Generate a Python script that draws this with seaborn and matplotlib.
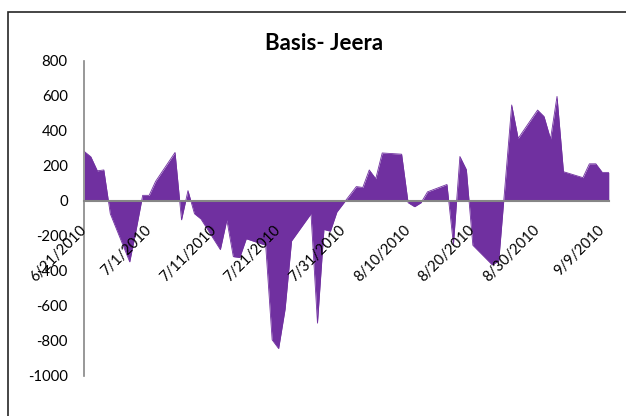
import matplotlib
matplotlib.use("Agg")
import matplotlib.pyplot as plt
import matplotlib.transforms as mtransforms
from matplotlib.patches import Rectangle
import pandas as pd
import seaborn as sns

# Daily basis readings (trading days, 2010)
dates = ["6/21", "6/22", "6/23", "6/24", "6/25", "6/28", "6/29", "6/30", "7/1", "7/2",
         "7/5", "7/6", "7/7", "7/8", "7/9", "7/12", "7/13", "7/14", "7/15", "7/16",
         "7/19", "7/20", "7/21", "7/22", "7/23", "7/26", "7/27", "7/28", "7/29", "7/30",
         "8/2", "8/3", "8/4", "8/5", "8/6", "8/9", "8/10", "8/11", "8/12", "8/13",
         "8/16", "8/17", "8/18", "8/19", "8/20", "8/23", "8/24", "8/25", "8/26", "8/27",
         "8/30", "8/31", "9/1", "9/2", "9/3", "9/6", "9/7", "9/8", "9/9", "9/10"]
basis = [280, 250, 170, 175, -75, -350, -165, 30, 30, 110,
         275, -110, 57, -75, -105, -280, -110, -320, -325, -218,
         -255, -795, -845, -620, -230, -75, -700, -165, -175, -65,
         80, 75, 175, 125, 272, 265, -12, -35, -12, 50,
         92, -250, 252, 177, -255, -367, -345, 100, 546, 355,
         517, 480, 352, 595, 165, 131, 210, 210, 161, 161]

x_tick_labels = ["6/21/2010", "7/1/2010", "7/11/2010", "7/21/2010", "7/31/2010",
                 "8/10/2010", "8/20/2010", "8/30/2010", "9/9/2010"]
y_ticks = [-1000, -800, -600, -400, -200, 0, 200, 400, 600, 800]

df = pd.DataFrame({
    "date": pd.to_datetime([d + "/2010" for d in dates], format="%m/%d/%Y"),
    "basis": basis,
})
tick_dates = pd.to_datetime(x_tick_labels, format="%m/%d/%Y")

sns.set_theme(style="white")
plt.rcParams["font.family"] = ["Lato", "DejaVu Sans"]
plt.rcParams["axes.unicode_minus"] = False

PURPLE = "#7030A0"
GREY = "#868686"

fig = plt.figure(figsize=(6.26, 4.16), dpi=100)
ax = fig.add_axes([84.4 / 626, 1 - 375.7 / 416, (608.8 - 84.4) / 626, (375.7 - 60.5) / 416])

# area under the basis series
ax.fill_between(df["date"], df["basis"], 0, color=PURPLE, linewidth=0, zorder=1)
sns.lineplot(data=df, x="date", y="basis", color=PURPLE, linewidth=0.6, ax=ax, zorder=1)

ax.set_xlim(df["date"].iloc[0], df["date"].iloc[-1])
ax.set_ylim(-1000, 800)
ax.set_xlabel("")
ax.set_ylabel("")
ax.grid(False)
ax.set_axisbelow(False)

# axis lines: vertical at the left, horizontal through zero
for side in ("top", "right"):
    ax.spines[side].set_visible(False)
ax.spines["bottom"].set_position(("data", 0))
ax.spines["bottom"].set_color(GREY)
ax.spines["bottom"].set_linewidth(1.5)
ax.spines["bottom"].set_zorder(3)
ax.spines["left"].set_color(GREY)
ax.spines["left"].set_linewidth(1.2)

ax.tick_params(axis="both", length=0)
ax.tick_params(axis="y", pad=12)
ax.tick_params(axis="x", pad=16)

ax.set_yticks(y_ticks)
ax.set_yticklabels([str(v) for v in y_ticks], fontsize=10.7, color="black")
ax.set_xticks(tick_dates)
ax.set_xticklabels(x_tick_labels, fontsize=10.6, color="black",
                   rotation=45, ha="right", va="top")

shift = mtransforms.ScaledTranslation(5 / 100, 0, fig.dpi_scale_trans)
for lbl in ax.get_xticklabels():
    lbl.set_transform(lbl.get_transform() + shift)
ax.xaxis.set_zorder(4)
ax.yaxis.set_zorder(4)

fig.text(324 / 626, 1 - 50 / 416, "Basis- Jeera", ha="center", va="baseline",
         fontsize=16, fontweight="bold", color="black")

# chart-area frame
fig.patches.append(Rectangle((8 / 626, -0.1), 1.2, 1.1 - 12 / 416,
                             transform=fig.transFigure, fill=False,
                             edgecolor="#262626", linewidth=1.2))

fig.savefig("out.png", dpi=100)
